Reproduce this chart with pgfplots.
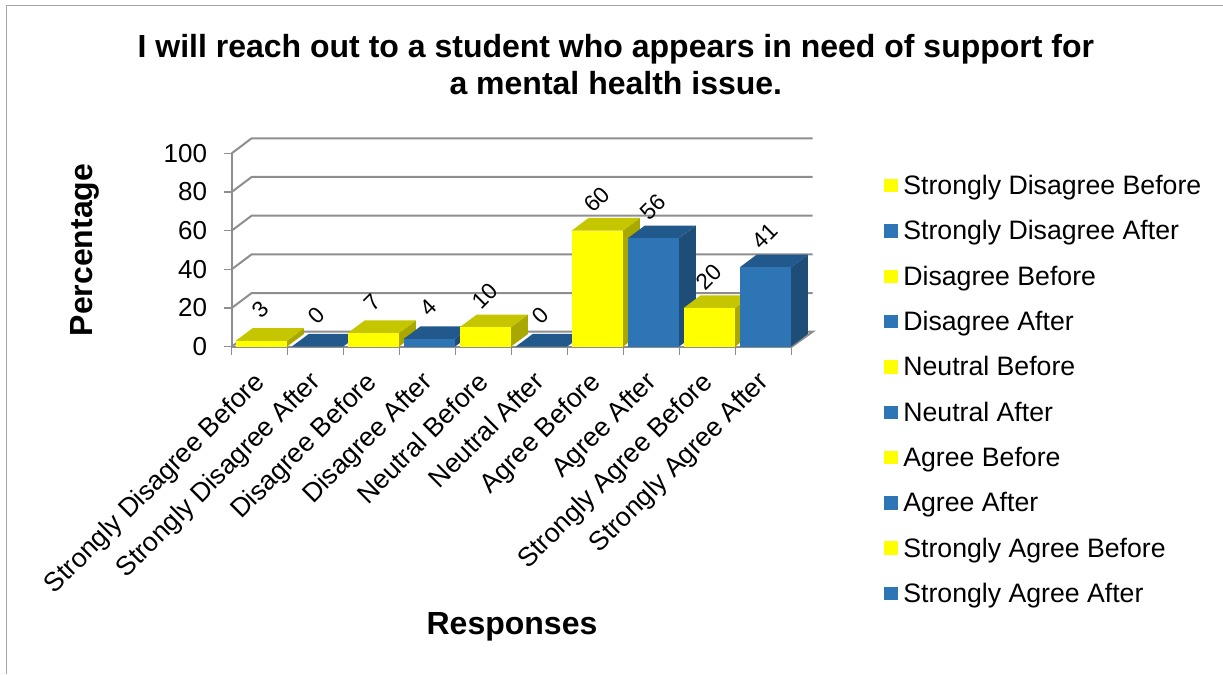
\documentclass[border=0pt]{standalone}
\usepackage{fontspec}
\setmainfont{Liberation Sans}
\usepackage{pgfplots}
\usepackage{pgfplotstable}
\pgfplotsset{compat=1.18}

\definecolor{yfront}{HTML}{FFFF00}
\definecolor{ytop}{HTML}{C6C600}
\definecolor{yside}{HTML}{A8A800}
\definecolor{bfront}{HTML}{2E75B6}
\definecolor{btop}{HTML}{22598C}
\definecolor{bside}{HTML}{1E4D78}
\definecolor{rule}{HTML}{8E8E8E}
\definecolor{frame}{HTML}{A6A6A6}

\newcommand{\px}{0.75pt}

% response shares in percent; odd rows are the "after" survey
\pgfplotstableread{
idx value
0 3
1 0
2 7
3 4
4 10
5 0
6 60
7 56
8 20
9 41
}\responses

% one extruded column: front, top and side faces from its value
\newcommand{\extrudedbar}[3]{%
  \pgfmathsetmacro{\xa}{#1+0.07}%
  \pgfmathsetmacro{\xb}{#1+0.985}%
  \pgfmathsetmacro{\xc}{\xb+0.304}%
  \pgfmathsetmacro{\xd}{\xa+0.304}%
  \pgfmathsetmacro{\yt}{#2+6.57}%
  \edef\facecmds{%
    \noexpand\addplot[forget plot,draw=none,fill=#3side] coordinates {(\xb,0)(\xc,6.57)(\xc,\yt)(\xb,#2)} -- cycle;
    \noexpand\addplot[forget plot,draw=none,fill=#3top] coordinates {(\xa,#2)(\xb,#2)(\xc,\yt)(\xd,\yt)} -- cycle;
    \noexpand\addplot[forget plot,draw=none,fill=#3front] coordinates {(\xa,0)(\xb,0)(\xb,#2)(\xa,#2)} -- cycle;
  }%
  \facecmds
}
% receding rule of the back wall at one level
\newcommand{\wallrule}[1]{%
  \pgfmathsetmacro{\yb}{#1+7.76}%
  \edef\rulecmd{\noexpand\addplot[forget plot,rule,line width=2*\px] coordinates {(0,#1)(0.357,\yb)(10.375,\yb)};}%
  \rulecmd
}
% square key with a little clear room on its right
\newcommand{\keyswatch}[1]{%
  \addlegendimage{draw=none,legend image code/.code={\fill[#1,draw=none] (0,-6.5*\px) rectangle (13.5*\px,7*\px);\path[draw=none,fill=none] (0,0) -- (19*\px,0);}}%
}

\begin{document}
\begin{tikzpicture}[x=\px,y=\px]
\useasboundingbox (0,0) rectangle (1223,674);
\draw[frame,line width=1.5*\px] (6.5,0) -- (6.5,668.5) -- (1223,668.5);
\begin{axis}[
  at={(231.7*\px,327.3*\px)},anchor=origin,
  scale only axis,width=420pt,height=145.05pt,
  xmin=0,xmax=10,ymin=0,ymax=100,
  clip=false,
  axis x line=bottom,axis y line=left,
  axis line style={-,rule,line width=2*\px},
  tick style={rule,line width=1.4*\px},
  xtick={0.5,1.5,...,9.5},
  minor xtick={0,1,...,10},
  major x tick style={draw=none},
  minor tick length=8*\px,
  major tick length=8*\px,
  tick align=outside,
  xticklabels={Strongly Disagree Before,Strongly Disagree After,Disagree Before,Disagree After,Neutral Before,Neutral After,Agree Before,Agree After,Strongly Agree Before,Strongly Agree After},
  xticklabel style={rotate=45,anchor=north east,font=\fontsize{20}{22}\selectfont,inner sep=0pt,xshift=-16*\px,yshift=-5*\px},
  ytick={0,20,...,100},
  yticklabel style={font=\fontsize{19.5}{22}\selectfont,xshift=-12*\px},
  /pgf/number format/assume math mode=true,
  xlabel={Responses},
  xlabel style={at={(axis description cs:0.5005,-1.449)},anchor=center,font=\bfseries\fontsize{24}{26}\selectfont},
  ylabel={Percentage},
  ylabel style={at={(axis description cs:-0.262,0.5)},anchor=center,rotate=0,font=\bfseries\fontsize{24}{26}\selectfont},
  title={I will reach out to a student who appears in need of support for\\a mental health issue.},
  title style={at={(axis description cs:0.686,1.4153)},anchor=center,align=center,font=\bfseries\fontsize{24}{27.75}\selectfont},
  legend style={at={(axis description cs:1.165,0.888)},anchor=north west,draw=none,fill=none,
    font=\fontsize{20}{24}\selectfont,row sep=24*\px,inner sep=0pt,
    nodes={inner sep=0pt},
    /tikz/every even column/.style={column sep=0pt}},
  legend cell align=left,
]
  % back wall and floor
  \wallrule{20}\wallrule{40}\wallrule{60}\wallrule{80}\wallrule{100}
  \addplot[forget plot,rule,line width=2*\px] coordinates {(0,0)(0.357,7.76)(10.375,7.76)(10,0)};

  \pgfplotsforeachungrouped \i in {0,...,9}{%
    \pgfplotstablegetelem{\i}{value}\of\responses
    \let\barvalue\pgfplotsretval
    \ifodd\i\relax
      \extrudedbar{\i}{\barvalue}{b}%
    \else
      \extrudedbar{\i}{\barvalue}{y}%
    \fi
  }

  % value labels, set above each column
  \addplot[forget plot,draw=none,mark=none,
    nodes near coords,
    every node near coord/.style={rotate=45,anchor=center,xshift=22*\px,yshift=22*\px,font=\fontsize{17}{18}\selectfont,inner sep=0pt}]
    table[x expr=\thisrow{idx}+0.52,y=value] {\responses};

  \keyswatch{yfront}\addlegendentry{Strongly Disagree Before}
  \keyswatch{bfront}\addlegendentry{Strongly Disagree After}
  \keyswatch{yfront}\addlegendentry{Disagree Before}
  \keyswatch{bfront}\addlegendentry{Disagree After}
  \keyswatch{yfront}\addlegendentry{Neutral Before}
  \keyswatch{bfront}\addlegendentry{Neutral After}
  \keyswatch{yfront}\addlegendentry{Agree Before}
  \keyswatch{bfront}\addlegendentry{Agree After}
  \keyswatch{yfront}\addlegendentry{Strongly Agree Before}
  \keyswatch{bfront}\addlegendentry{Strongly Agree After}
\end{axis}
\end{tikzpicture}
\end{document}
